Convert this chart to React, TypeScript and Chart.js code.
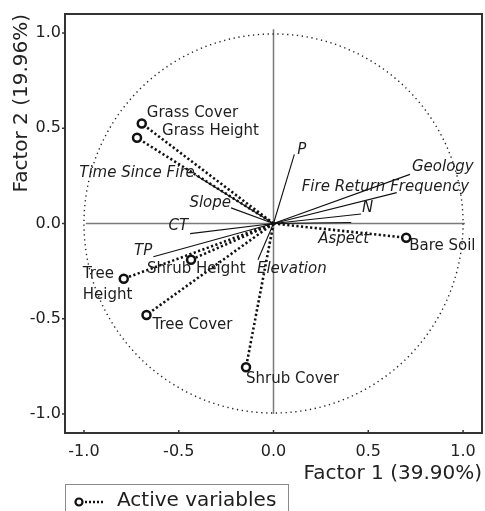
import React, { useEffect, useRef } from "react";
import { Chart, registerables } from "chart.js";

Chart.register(...registerables);

// ---------- data ----------
const activeNames = ["Grass Cover", "Grass Height", "Bare Soil", "Tree\nHeight", "Shrub Height", "Tree Cover", "Shrub Cover"];
const activeF1 = [-0.695, -0.72, 0.7, -0.79, -0.435, -0.67, -0.145];
const activeF2 = [0.525, 0.45, -0.075, -0.29, -0.19, -0.48, -0.755];

const suppNames = ["P", "Geology", "Fire Return Frequency", "N", "Aspect", "Elevation", "TP", "CT", "Slope", "Time Since Fire"];
const suppF1 = [0.11, 0.72, 0.65, 0.462, 0.41, -0.082, -0.634, -0.44, -0.224, -0.41];
const suppF2 = [0.363, 0.258, 0.162, 0.05, 0.005, -0.19, -0.175, -0.053, 0.082, 0.253];

const tickValues = [-1.0, -0.5, 0.0, 0.5, 1.0];
const xTitle = "Factor 1 (39.90%)";
const yTitle = "Factor 2 (19.96%)";
const legendLabel = "Active variables";

// ---------- label placement (pixel offsets from end point) ----------
const activeLabelStyle: [number, number, CanvasTextAlign][] = [
  [5, -10, "left"],
  [25, -7, "left"],
  [3, 8, "left"],
  [-41, -5, "left"],
  [-44, 9, "left"],
  [6, 10, "left"],
  [0, 12, "left"],
];
const suppLabelStyle: [number, number, CanvasTextAlign][] = [
  [3, -4, "left"],
  [2, -7, "left"],
  [-95, -6, "left"],
  [1, -6, "left"],
  [-33, 17, "left"],
  [-1, 9, "left"],
  [-1, -6, "right"],
  [-2, -7, "right"],
  [0, -5, "right"],
  [-1, -2, "right"],
];

const FONT = "'DejaVu Sans', 'Liberation Sans', sans-serif";
const RIGHT_MARGIN = 3;

const decorPlugin = {
  id: "decor",
  afterLayout(chart: any) {
    // pin the plot frame's right edge (Chart.js reserves room for tick overhang)
    const xs = chart.scales.x;
    const target = chart.width - RIGHT_MARGIN;
    xs.right = target;
    xs.width = target - xs.left;
    chart.chartArea.right = target;
    chart.chartArea.width = target - chart.chartArea.left;
    xs.configure();
  },
  beforeDatasetsDraw(chart: any) {
    const { ctx, chartArea } = chart;
    const xs = chart.scales.x;
    const ys = chart.scales.y;
    const cx = xs.getPixelForValue(0);
    const cy = ys.getPixelForValue(0);
    const r = xs.getPixelForValue(1) - cx;
    ctx.save();
    // axes through origin
    ctx.strokeStyle = "#7a7a7a";
    ctx.lineWidth = 1.5;
    ctx.beginPath();
    ctx.moveTo(cx, ys.getPixelForValue(1.02));
    ctx.lineTo(cx, ys.getPixelForValue(-1.0));
    ctx.moveTo(xs.getPixelForValue(-0.99), cy);
    ctx.lineTo(xs.getPixelForValue(1.01), cy);
    ctx.stroke();
    // unit circle
    ctx.strokeStyle = "#222";
    ctx.lineWidth = 1.4;
    ctx.setLineDash([1.3, 3.6]);
    ctx.beginPath();
    ctx.arc(cx, cy, r, 0, Math.PI * 2);
    ctx.stroke();
    ctx.setLineDash([]);
    // frame
    ctx.strokeStyle = "#333";
    ctx.lineWidth = 2;
    ctx.strokeRect(chartArea.left, chartArea.top, chartArea.right - chartArea.left, chartArea.bottom - chartArea.top);
    // tick marks
    ctx.lineWidth = 1.5;
    ctx.beginPath();
    tickValues.forEach((v) => {
      const py = ys.getPixelForValue(v);
      ctx.moveTo(chartArea.left - 3, py);
      ctx.lineTo(chartArea.left, py);
      const px = xs.getPixelForValue(v);
      ctx.moveTo(px, chartArea.bottom);
      ctx.lineTo(px, chartArea.bottom - 3);
    });
    ctx.stroke();
    ctx.restore();
  },
  afterDatasetsDraw(chart: any) {
    const { ctx } = chart;
    const xs = chart.scales.x;
    const ys = chart.scales.y;
    ctx.save();
    ctx.fillStyle = "#1e1e1e";
    ctx.textBaseline = "middle";
    ctx.font = `15px ${FONT}`;
    activeNames.forEach((name, i) => {
      const px = xs.getPixelForValue(activeF1[i]);
      const py = ys.getPixelForValue(activeF2[i]);
      const [dx, dy, align] = activeLabelStyle[i];
      ctx.textAlign = align;
      name.split("\n").forEach((line, k) => {
        ctx.fillText(line, px + dx, py + dy + k * 21);
      });
    });
    ctx.font = `italic 15px ${FONT}`;
    suppNames.forEach((name, i) => {
      const px = xs.getPixelForValue(suppF1[i]);
      const py = ys.getPixelForValue(suppF2[i]);
      const [dx, dy, align] = suppLabelStyle[i];
      ctx.textAlign = align;
      ctx.fillText(name, px + dx, py + dy);
    });
    ctx.restore();
  },
  afterDraw(chart: any) {
    const { ctx } = chart;
    ctx.save();
    // legend box
    ctx.strokeStyle = "#8a8a8a";
    ctx.lineWidth = 1;
    ctx.strokeRect(65.5, 484.5, 223, 40);
    // marker
    ctx.strokeStyle = "#111";
    ctx.lineWidth = 2.5;
    ctx.setLineDash([2, 2]);
    ctx.beginPath();
    ctx.moveTo(85, 502);
    ctx.lineTo(103, 502);
    ctx.stroke();
    ctx.setLineDash([]);
    ctx.lineWidth = 2.2;
    ctx.fillStyle = "#fff";
    ctx.beginPath();
    ctx.arc(79, 502, 3.5, 0, Math.PI * 2);
    ctx.fill();
    ctx.stroke();
    ctx.fillStyle = "#1e1e1e";
    ctx.font = `20px ${FONT}`;
    ctx.textBaseline = "middle";
    ctx.textAlign = "left";
    ctx.fillText(legendLabel, 117, 501);
    ctx.restore();
  },
};

export default function App() {
  const ref = useRef<HTMLCanvasElement>(null);
  useEffect(() => {
    if (!ref.current) return;
    Chart.defaults.font.family = FONT;
    const datasets: any[] = [];
    suppNames.forEach((name, i) => {
      datasets.push({
        label: name,
        data: [
          { x: 0, y: 0 },
          { x: suppF1[i], y: suppF2[i] },
        ],
        showLine: true,
        borderColor: "#111",
        borderWidth: 1.1,
        pointRadius: 0,
      });
    });
    activeNames.forEach((name, i) => {
      datasets.push({
        label: name,
        data: [
          { x: 0, y: 0 },
          { x: activeF1[i], y: activeF2[i] },
        ],
        showLine: true,
        borderColor: "#111",
        borderWidth: 2.6,
        borderDash: [2.2, 2.4],
        pointRadius: [0, 4],
        pointBorderWidth: 2.5,
        pointBorderColor: "#111",
        pointBackgroundColor: "#fff",
      });
    });
    const chart = new Chart(ref.current, {
      type: "scatter",
      data: { datasets },
      options: {
        animation: false,
        responsive: false,
        devicePixelRatio: 1,
        layout: { padding: { top: 14, right: RIGHT_MARGIN, left: 0, bottom: 0 } },
        plugins: { legend: { display: false }, tooltip: { enabled: false } },
        scales: {
          x: {
            type: "linear",
            min: -1.1,
            max: 1.1,
            afterBuildTicks: (s: any) => {
              s.ticks = tickValues.map((v) => ({ value: v }));
            },
            afterFit: (s: any) => {
              s.height = 78;
            },
            grid: { display: false, drawTicks: false },
            border: { display: false },
            ticks: {
              padding: 9,
              color: "#222",
              font: { size: 16 },
              maxRotation: 0,
              callback: (v: any) => Number(v).toFixed(1),
            },
            title: {
              display: true,
              text: xTitle,
              align: "end",
              color: "#222",
              font: { size: 20 },
              padding: { top: 0, bottom: 25 },
            },
          },
          y: {
            type: "linear",
            min: -1.1,
            max: 1.1,
            afterBuildTicks: (s: any) => {
              s.ticks = tickValues.map((v) => ({ value: v }));
            },
            afterFit: (s: any) => {
              s.width = 65;
            },
            grid: { display: false, drawTicks: false },
            border: { display: false },
            ticks: {
              padding: 4,
              color: "#222",
              font: { size: 16 },
              callback: (v: any) => Number(v).toFixed(1),
            },
            title: {
              display: true,
              text: yTitle,
              align: "end",
              color: "#222",
              font: { size: 20 },
              padding: { top: 10, bottom: 0 },
            },
          },
        },
      },
      plugins: [decorPlugin],
    } as any);
    return () => chart.destroy();
  }, []);
  return (
    <div style={{ position: "absolute", left: 0, top: 0, width: 485, height: 511, background: "#fff" }}>
      <canvas ref={ref} width={485} height={511} style={{ display: "block" }} />
    </div>
  );
}
